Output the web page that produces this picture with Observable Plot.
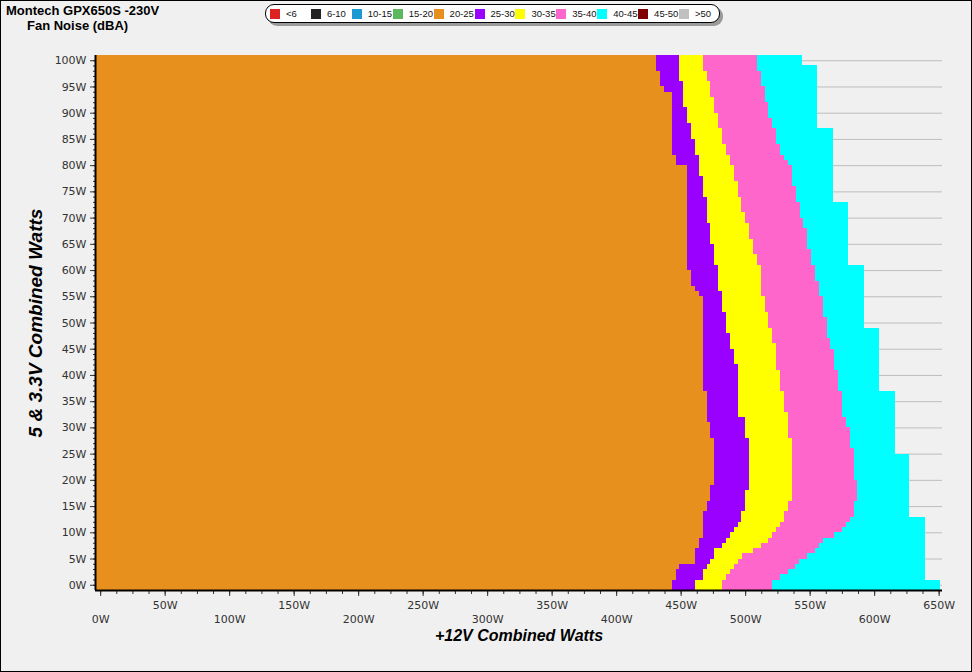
<!DOCTYPE html>
<html><head><meta charset="utf-8">
<script src="https://cdn.jsdelivr.net/npm/d3@7"></script>
<script src="https://cdn.jsdelivr.net/npm/@observablehq/plot@0.6"></script>
<style>
html,body{margin:0;padding:0;background:#f0f0f0;}
#wrap{position:relative;width:972px;height:672px;overflow:hidden;background:#f0f0f0;font-family:"Liberation Sans",Arial,sans-serif;color:#000;}
#chart{position:absolute;left:0;top:0;}
#border{position:absolute;left:0;top:0;width:972px;height:672px;box-sizing:border-box;border:1px solid #000;pointer-events:none;}
.t1{position:absolute;left:6px;top:4px;font-size:13px;font-weight:bold;line-height:13px;white-space:nowrap;}
.t2{position:absolute;left:27px;top:18.5px;font-size:13px;font-weight:bold;line-height:13px;white-space:nowrap;}
#legend{position:absolute;left:265px;top:4px;width:455px;height:19px;box-sizing:border-box;border:1px solid #000;border-radius:9px;background:#fff;box-shadow:3px 3px 0 #9a9a9a;}
.item{position:absolute;top:0;height:17px;display:flex;align-items:center;font-size:9.5px;white-space:nowrap;color:#111;}
.sw{width:10px;height:10px;margin-right:6px;}
</style></head>
<body>
<div id="wrap">
  <div id="chart"></div>
  <div class="t1">Montech GPX650S -230V</div>
  <div class="t2">Fan Noise (dBA)</div>
  <div id="legend"></div>
  <div id="border"></div>
</div>
<script>
// Legend categories (dBA) and colours
const legendLabels = ["<6","6-10","10-15","15-20","20-25","25-30","30-35","35-40","40-45","45-50",">50"];
const legendColors = ["#dd2222","#222222","#1a9ad0","#5cb85c","#e8901e","#9900ff","#ffff00","#ff66cc","#00ffff","#800000","#c0c0c0"];

// Rows of the grid: lower edge of each 1W band of 5V & 3.3V combined load
const rowY = [-1,0,1,2,3,4,5,6,7,8,9,10,11,12,13,14,15,16,17,18,19,20,21,22,23,24,25,26,27,28,29,30,
  31,32,33,34,35,36,37,38,39,40,41,42,43,44,45,46,47,48,49,50,51,52,53,54,55,56,57,58,59,60,
  61,62,63,64,65,66,67,68,69,70,71,72,73,74,75,76,77,78,79,80,81,82,83,84,85,86,87,88,89,90,
  91,92,93,94,95,96,97,98,99,100];

// Upper +12V load (W) where each noise band ends, per row (bottom to top)
const end20_25 = [443.1,443.1,446.2,446.2,448.5,460.9,460.9,460.9,464.0,464.0,
 467.1,467.1,467.1,467.1,467.1,470.2,470.2,472.5,472.5,472.5,
 475.6,475.6,475.6,475.6,475.6,475.6,475.6,475.6,475.6,472.5,
 472.5,472.5,470.2,470.2,470.2,470.2,470.2,470.2,467.1,467.1,
 467.1,467.1,467.1,467.1,467.1,467.1,467.1,467.1,467.1,467.1,
 467.1,467.1,467.1,467.1,467.1,467.1,464.0,460.9,457.8,457.8,
 457.8,454.7,454.7,454.7,454.7,454.7,454.7,454.7,454.7,454.7,
 454.7,454.7,454.7,454.7,454.7,454.7,454.7,454.7,454.7,454.7,
 454.7,446.2,446.2,443.1,443.1,443.1,443.1,443.1,443.1,443.1,
 443.1,443.1,443.1,443.1,443.1,436.9,433.8,433.8,433.8,430.7,
 430.7,430.7];
const end25_30 = [460.9,460.9,467.1,467.1,470.2,472.5,475.6,475.6,481.8,484.9,
 488.0,491.2,494.2,496.5,496.5,499.6,499.6,499.6,499.6,502.7,
 502.7,502.7,502.7,502.7,502.7,502.7,502.7,502.7,502.7,499.6,
 499.6,499.6,499.6,494.2,494.2,494.2,494.2,494.2,494.2,494.2,
 494.2,494.2,494.2,491.2,491.2,491.2,488.0,488.0,488.0,484.9,
 484.9,484.9,484.9,481.8,481.8,481.8,481.8,478.7,478.7,478.7,
 478.7,478.7,475.6,475.6,475.6,475.6,472.5,472.5,472.5,472.5,
 470.2,470.2,470.2,470.2,470.2,467.1,467.1,467.1,467.1,464.0,
 464.0,464.0,464.0,460.9,460.9,460.9,457.8,457.8,457.8,454.7,
 454.7,454.7,451.6,451.6,451.6,451.6,451.6,448.5,448.5,448.5,
 448.5,448.5];
const end30_35 = [481.8,481.8,484.9,488.0,491.2,494.2,497.3,505.8,512.0,517.4,
 520.5,523.6,526.7,529.8,529.8,532.9,532.9,536.0,536.0,536.0,
 536.0,536.0,536.0,536.0,536.0,536.0,536.0,536.0,536.0,532.9,
 532.9,532.9,532.9,532.9,529.8,529.8,529.8,529.8,526.7,526.7,
 526.7,526.7,523.6,523.6,523.6,523.6,523.6,520.5,520.5,520.5,
 517.4,517.4,517.4,515.1,515.1,515.1,512.0,512.0,512.0,512.0,
 512.0,512.0,508.9,508.9,505.8,505.8,505.8,502.7,502.7,502.7,
 499.6,499.6,496.5,496.5,496.5,494.2,494.2,494.2,491.2,491.2,
 491.2,488.0,488.0,484.9,484.9,481.8,481.8,481.8,478.7,478.7,
 478.7,475.6,475.6,475.6,472.5,472.5,472.5,470.2,470.2,467.1,
 467.1,467.1];
const end35_40 = [520.5,520.5,526.7,532.9,538.3,541.4,547.6,553.8,556.9,560.0,
 568.5,574.7,577.8,580.9,584.0,584.0,584.0,586.4,586.4,586.4,
 586.4,584.0,584.0,584.0,584.0,584.0,584.0,580.9,580.9,580.9,
 580.9,577.8,577.8,574.7,574.7,574.7,574.7,574.7,571.6,571.6,
 571.6,571.6,568.5,568.5,568.5,568.5,565.4,565.4,563.1,563.1,
 563.1,563.1,560.0,560.0,560.0,560.0,556.9,556.9,556.9,553.8,
 553.8,553.8,550.7,550.7,550.7,547.6,547.6,547.6,547.6,544.5,
 544.5,542.2,542.2,542.2,539.1,539.1,539.1,536.0,536.0,536.0,
 536.0,532.9,529.8,526.7,526.7,523.6,523.6,523.6,520.5,520.5,
 517.4,517.4,517.4,515.1,515.1,515.1,512.0,512.0,512.0,508.9,
 508.9,508.9];
const end40_45 = [651.4,651.4,639.8,639.8,639.8,639.8,639.8,639.8,639.8,639.8,
 639.8,639.8,639.8,639.8,627.4,627.4,627.4,627.4,627.4,627.4,
 627.4,627.4,627.4,627.4,627.4,627.4,615.8,615.8,615.8,615.8,
 615.8,615.8,615.8,615.8,615.8,615.8,615.8,615.8,603.4,603.4,
 603.4,603.4,603.4,603.4,603.4,603.4,603.4,603.4,603.4,603.4,
 591.8,591.8,591.8,591.8,591.8,591.8,591.8,591.8,591.8,591.8,
 591.8,591.8,579.4,579.4,579.4,579.4,579.4,579.4,579.4,579.4,
 579.4,579.4,579.4,579.4,567.8,567.8,567.8,567.8,567.8,567.8,
 567.8,567.8,567.8,567.8,567.8,567.8,567.8,567.8,555.4,555.4,
 555.4,555.4,555.4,555.4,555.4,555.4,555.4,555.4,555.4,555.4,
 543.8,543.8];

// Axis ticks
const yTicks = [0,5,10,15,20,25,30,35,40,45,50,55,60,65,70,75,80,85,90,95,100];
const xTicksLow = [0,100,200,300,400,500,600];
const xTicksHigh = [50,150,250,350,450,550,650];
const xMajor = [0,50,100,150,200,250,300,350,400,450,500,550,600,650];

const xDomain = [-4, 652.6];
const yDomain = [-1, 101];

const bands = [
  {color: "#e8901e", lo: null, hi: end20_25},
  {color: "#9900ff", lo: end20_25, hi: end25_30},
  {color: "#ffff00", lo: end25_30, hi: end30_35},
  {color: "#ff66cc", lo: end30_35, hi: end35_40},
  {color: "#00ffff", lo: end35_40, hi: end40_45}
];
const bandMarks = bands.map(b => Plot.rect(
  rowY.map((y, i) => ({y1: y, y2: y + 1, x1: b.lo ? b.lo[i] : xDomain[0], x2: b.hi[i]})),
  {x1: "x1", x2: "x2", y1: "y1", y2: "y2", fill: b.color, shapeRendering: "crispEdges"}
));

const fmt = d => d + "W";
const chart = Plot.plot({
  width: 972, height: 672,
  marginLeft: 95, marginRight: 30, marginTop: 55, marginBottom: 82,
  x: {domain: xDomain, axis: null, label: null},
  y: {domain: yDomain, axis: null, label: null},
  style: {background: "transparent", fontFamily: "'DejaVu Sans', Verdana, sans-serif", fontSize: "11px", color: "#222", overflow: "visible"},
  marks: [
    Plot.gridY(yTicks, {stroke: "#bdbdbd", strokeOpacity: 1, strokeWidth: 1}),
    ...bandMarks,
    // y axis
    Plot.axisY(d3.range(0, 101, 1), {tickSize: 2, fill: "none", label: null, stroke: "#333"}),
    Plot.axisY(yTicks, {tickSize: 5, tickPadding: 4, tickFormat: fmt, label: null, stroke: "#333", fill: "#333", fontSize: 11}),
    // x axis
    Plot.axisX(d3.range(0, 651, 12.5), {tickSize: 4, fill: "none", label: null, stroke: "#333"}),
    Plot.axisX(xMajor, {tickSize: 6, fill: "none", label: null, stroke: "#333"}),
    Plot.axisX(xTicksHigh, {tickSize: 0, tickPadding: 11, tickFormat: fmt, label: null, fill: "#333", fontSize: 11}),
    Plot.axisX(xTicksLow, {tickSize: 0, tickPadding: 25, tickFormat: fmt, label: null, fill: "#333", fontSize: 11}),
    Plot.ruleX([xDomain[0]], {stroke: "#000", strokeWidth: 2}),
    Plot.ruleY([yDomain[0]], {stroke: "#000", strokeWidth: 2}),
    Plot.text(["5 & 3.3V Combined Watts"], {text: d => d, frameAnchor: "left", textAnchor: "middle", dx: -60, rotate: -90,
      fontSize: 19, fontWeight: "bold", fontStyle: "italic", fontFamily: "'Liberation Sans', Arial, sans-serif", fill: "#000"}),
    Plot.text(["+12V Combined Watts"], {text: d => d, frameAnchor: "bottom", textAnchor: "middle", dy: 50,
      fontSize: 16, fontWeight: "bold", fontStyle: "italic", fontFamily: "'Liberation Sans', Arial, sans-serif", fill: "#000"})
  ]
});
document.getElementById("chart").appendChild(chart);

// Legend
const leg = document.getElementById("legend");
legendLabels.forEach((lab, i) => {
  const it = document.createElement("div");
  it.className = "item";
  it.style.left = (4 + i * 40.9) + "px";
  const sw = document.createElement("div");
  sw.className = "sw";
  sw.style.background = legendColors[i];
  const tx = document.createElement("span");
  tx.textContent = lab;
  it.appendChild(sw); it.appendChild(tx);
  leg.appendChild(it);
});
</script>
</body></html>
